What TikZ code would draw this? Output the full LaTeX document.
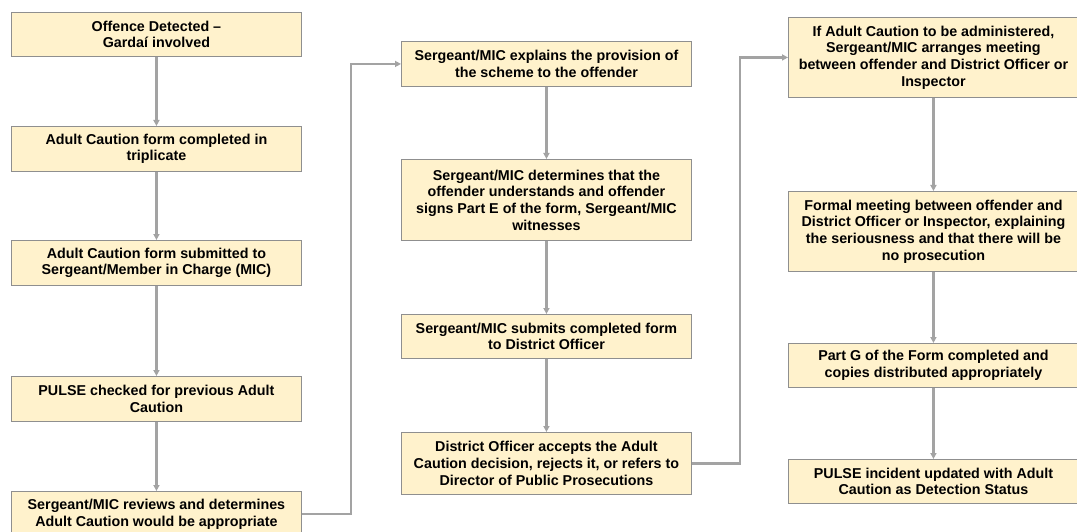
\documentclass[tikz,border=0pt]{standalone}
\usepackage{fontspec}
\setmainfont{Liberation Sans}
\usetikzlibrary{arrows.meta}
\definecolor{boxfill}{HTML}{FFF2CC}
\definecolor{boxline}{HTML}{8F8F8F}
\definecolor{flowline}{HTML}{A3A3A3}
\tikzset{stepbox/.style={draw=boxline, fill=boxfill, line width=0.9pt,
      anchor=north west, align=center, inner sep=2pt, minimum width=290pt,
      font=\fontsize{14.3}{16.7}\selectfont\bfseries},
    flow/.style={draw=flowline, line width=2.2pt,
      -{Triangle[length=6pt,width=6pt]}},
    }
\begin{document}
\begin{tikzpicture}[x=1pt,y=-1pt]
\useasboundingbox (0,0) rectangle (1077,532);
% left column
\node[stepbox, minimum height=44pt] (b1) at (11,12) {Offence Detected –\\Gardaí involved};
\node[stepbox, minimum height=45pt] (b2) at (11,126) {Adult Caution form completed in\\triplicate};
\node[stepbox, minimum height=45pt] (b3) at (11,240) {Adult Caution form submitted to\\Sergeant/Member in Charge (MIC)};
\node[stepbox, minimum height=45pt] (b4) at (11,376) {PULSE checked for previous Adult\\Caution};
\node[stepbox, minimum height=45pt] (b5) at (11,491) {Sergeant/MIC reviews and determines\\Adult Caution would be appropriate};
% middle column
\node[stepbox, minimum height=45pt] (c1) at (401,41) {Sergeant/MIC explains the provision of\\the scheme to the offender};
\node[stepbox, minimum height=81pt] (c2) at (401,159) {Sergeant/MIC determines that the\\offender understands and offender\\signs Part E of the form, Sergeant/MIC\\witnesses};
\node[stepbox, minimum height=44pt] (c3) at (401,314) {Sergeant/MIC submits completed form\\to District Officer};
\node[stepbox, minimum height=62pt] (c4) at (401,432) {District Officer accepts the Adult\\Caution decision, rejects it, or refers to\\Director of Public Prosecutions};
% right column
\node[stepbox, minimum height=80pt] (d1) at (788,17) {If Adult Caution to be administered,\\Sergeant/MIC arranges meeting\\between offender and District Officer or\\Inspector};
\node[stepbox, minimum height=80pt] (d2) at (788,191) {Formal meeting between offender and\\District Officer or Inspector, explaining\\the seriousness and that there will be\\no prosecution};
\node[stepbox, minimum height=44pt] (d3) at (788,343) {Part G of the Form completed and\\copies distributed appropriately};
\node[stepbox, minimum height=44pt] (d4) at (788,459) {PULSE incident updated with Adult\\Caution as Detection Status};
% connectors
\foreach \a/\b in {b1/b2,b2/b3,b3/b4,b4/b5,c1/c2,c2/c3,c3/c4,d1/d2,d2/d3,d3/d4}
  \draw[flow] (\a) -- (\b);
\coordinate (j1) at (351,0);
\coordinate (j2) at (740,0);
\draw[flow] (b5.east) -| (j1 |- c1.west) -- (c1.west);
\draw[flow] (c4.east) -| (j2 |- d1.west) -- (d1.west);
\end{tikzpicture}
\end{document}
